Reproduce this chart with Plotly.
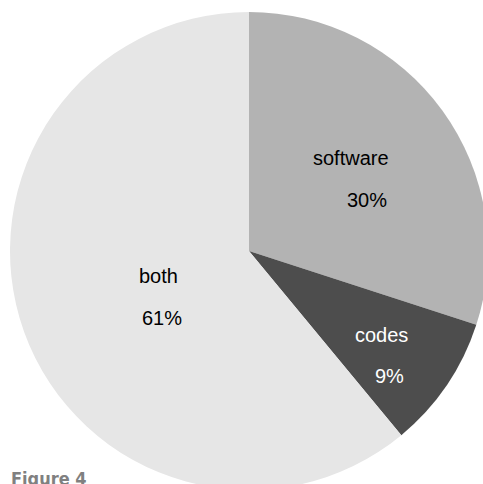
import plotly.graph_objects as go

# Share of respondents by what they publish
categories = ["software", "codes", "both"]
shares = [30, 9, 61]
slice_colors = ["#b3b3b3", "#4d4d4d", "#e6e6e6"]
text_colors = ["#000000", "#ffffff", "#000000"]

# Figure canvas (slightly larger than the view so the pie runs off the bottom)
W, H = 488, 490
M_L, M_T = 10, 12
PLOT = 478

def px_x(x):
    return (x - M_L) / PLOT

def px_y(y):
    return 1 - (y - M_T) / PLOT

# Label placement in pixels: (name x, name baseline, pct x, pct baseline)
label_pos = {
    "software": (350.5, 165, 367, 207),
    "codes": (381, 342, 389, 383),
    "both": (158.5, 283, 161.5, 325),
}

FS = 20
fig = go.Figure(
    go.Pie(
        labels=categories,
        values=shares,
        sort=False,
        direction="clockwise",
        rotation=0,
        marker=dict(colors=slice_colors, line=dict(width=0)),
        textinfo="none",
        showlegend=False,
        domain=dict(x=[0, 1], y=[0, 1]),
    )
)

total = sum(shares)
annotations = []
for name, val, col in zip(categories, shares, text_colors):
    nx, nb, pxx, pb = label_pos[name]
    pct = f"{round(val / total * 100)}%"
    for txt, x, base in ((name, nx, nb), (pct, pxx, pb)):
        annotations.append(dict(
            text=txt, x=px_x(x), y=px_y(base - 0.35 * FS),
            xref="paper", yref="paper", xanchor="center", yanchor="middle",
            showarrow=False,
            font=dict(family="Liberation Sans, Arial", size=FS, color=col),
        ))

CAP_FS = 18
annotations.append(dict(
    text="<b>Figure 4</b>", x=px_x(9), y=px_y(485 - 0.35 * CAP_FS),
    xref="paper", yref="paper", xanchor="left", yanchor="middle",
    showarrow=False,
    font=dict(family="Liberation Sans Narrow, DejaVu Sans Condensed, Roboto Condensed, Roboto, sans-serif",
              size=CAP_FS, color="#808080"),
))

fig.update_layout(
    width=W, height=H,
    margin=dict(l=M_L, t=M_T, r=0, b=0, pad=0),
    paper_bgcolor="#ffffff",
    plot_bgcolor="#ffffff",
    annotations=annotations,
)

fig.write_html(
    "out.html",
    config={"displayModeBar": False},
    post_script="document.documentElement.style.overflow='hidden';"
                "document.body.style.overflow='hidden';"
                "document.body.style.margin='0';",
)
